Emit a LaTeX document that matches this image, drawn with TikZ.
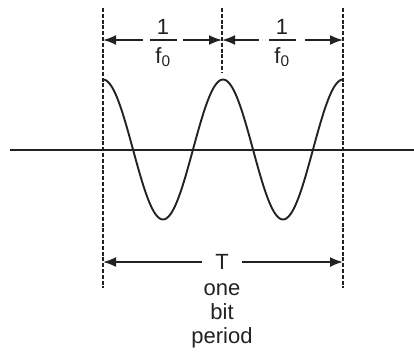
\documentclass[tikz,border=0pt]{standalone}
\usepackage{fontspec}
\setmainfont{Liberation Sans}
\usetikzlibrary{arrows.meta}
\definecolor{ink}{HTML}{222222}
\begin{document}
\begin{tikzpicture}[x=1pt,y=-1pt,
  guide/.style={draw=ink, line width=1.8pt, dash pattern=on 4pt off 1.8pt},
  dimarrow/.style={draw=ink, line width=1.8pt, -{Latex[length=13pt,width=10pt]}},
  wave/.style={draw=ink, line width=1.9pt},
  axisline/.style={draw=ink, line width=1.8pt},
  lbl/.style={font=\fontsize{22}{24}\selectfont, text=ink, inner sep=0pt},
  fracbar/.style={fill=ink, minimum height=2pt, inner sep=0pt, minimum width=27pt},
  gap/.style={inner sep=0pt, minimum height=2pt}
]
\useasboundingbox (0,0) rectangle (414,356);
% guide lines
\coordinate (Lt) at (103,8);
\coordinate (Lb) at (103,288);
\coordinate (Mt) at (222,8);
\coordinate (Mb) at (222,72);
\coordinate (Rt) at (343,8);
\coordinate (Rb) at (343,288);
\draw[guide] (Lt) -- (Lb);
\draw[guide] (Mt) -- (Mb);
\draw[guide] (Rt) -- (Rb);
% axis
\coordinate (A0) at (10,150);
\coordinate (A1) at (414,150);
\draw[axisline] (A0) -- (A1);
% wave
\draw[wave] plot[domain=0:240, samples=161, smooth] ({103+\x},{149.5-70*cos(3*\x)});
% first 1/f0
\node[lbl] (n1) at (163,27) {1};
\node[fracbar] (bar1) at (163,40) {};
\node[lbl] (d1) at (163,57) {f\textsubscript{0}};
\node[gap, minimum width=40pt] (g1) at (163,40) {};
\draw[dimarrow] (g1.west) -- (Lt|-g1);
\draw[dimarrow] (g1.east) -- (Mt|-g1);
% second 1/f0
\node[lbl] (n2) at (282,27) {1};
\node[fracbar] (bar2) at (282,40) {};
\node[lbl] (d2) at (282,57) {f\textsubscript{0}};
\node[gap, minimum width=46pt] (g2) at (282,40) {};
\draw[dimarrow] (g2.west) -- (Mt|-g2);
\draw[dimarrow] (g2.east) -- (Rt|-g2);
% T
\node[lbl, inner xsep=13pt] (T) at (222,262) {T};
\draw[dimarrow] (T.west) -- (Lb|-T);
\draw[dimarrow] (T.east) -- (Rb|-T);
\node[lbl, align=center] (cap) at (222,316) {one\\bit\\period};
\end{tikzpicture}
\end{document}
